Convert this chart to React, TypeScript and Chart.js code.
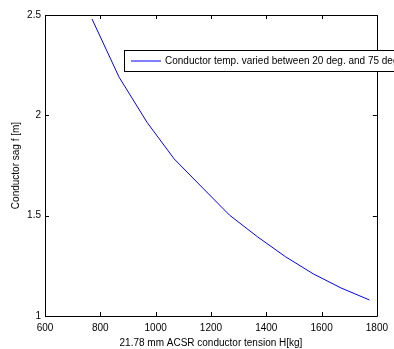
import React, { useEffect, useRef } from "react";
import { Chart, registerables } from "chart.js";

Chart.register(...registerables);

const tensionH = [770, 868, 969, 1067, 1171, 1267, 1368, 1470, 1570, 1670, 1773];
const sagF = [2.48, 2.19, 1.965, 1.783, 1.637, 1.503, 1.395, 1.295, 1.21, 1.14, 1.08];
const xTicks = [600, 800, 1000, 1200, 1400, 1600, 1800];
const yTicks = [1, 1.5, 2, 2.5];
const seriesLabel = "Conductor temp. varied between 20 deg. and 75 deg.";
const xTitle = "21.78 mm ACSR conductor tension H[kg]";
const yTitle = "Conductor sag f [m]";

const FONT = "Arial, 'Liberation Sans', sans-serif";

const framePlugin = {
  id: "frame",
  afterDraw(chart: any) {
    const { ctx, chartArea } = chart;
    const { left, right, top, bottom } = chartArea;
    const xs = chart.scales.x;
    const ys = chart.scales.y;
    ctx.save();
    ctx.strokeStyle = "#000";
    ctx.lineWidth = 1;
    ctx.beginPath();
    ctx.rect(Math.round(left) + 0.5, Math.round(top) + 0.5, Math.round(right - left), Math.round(bottom - top));
    ctx.stroke();
    const tl = 4;
    ctx.beginPath();
    xTicks.forEach((v) => {
      const px = Math.round(xs.getPixelForValue(v)) + 0.5;
      ctx.moveTo(px, bottom);
      ctx.lineTo(px, bottom - tl);
      ctx.moveTo(px, top);
      ctx.lineTo(px, top + tl);
    });
    yTicks.forEach((v) => {
      const py = Math.round(ys.getPixelForValue(v)) + 0.5;
      ctx.moveTo(left, py);
      ctx.lineTo(left + tl, py);
      ctx.moveTo(right, py);
      ctx.lineTo(right - tl, py);
    });
    ctx.stroke();

    // legend
    const lx = 124.5, ly = 50.5, lh = 21;
    ctx.fillStyle = "#fff";
    ctx.fillRect(lx, ly, 400, lh);
    ctx.strokeStyle = "#000";
    ctx.strokeRect(lx, ly, 400, lh);
    ctx.strokeStyle = "#0000ff";
    ctx.beginPath();
    ctx.moveTo(131, ly + lh / 2);
    ctx.lineTo(161, ly + lh / 2);
    ctx.stroke();
    ctx.fillStyle = "#000";
    ctx.font = `10px ${FONT}`;
    ctx.textBaseline = "middle";
    ctx.textAlign = "left";
    ctx.fillText(chart.data.datasets[0].label, 165, ly + lh / 2 + 0.5);
    ctx.restore();
  },
};

export default function App() {
  const ref = useRef<HTMLCanvasElement>(null);
  useEffect(() => {
    document.body.style.margin = "0";
    const chart = new Chart(ref.current!, {
      type: "line",
      data: {
        datasets: [
          {
            label: seriesLabel,
            data: tensionH.map((h, i) => ({ x: h, y: sagF[i] })),
            borderColor: "#0000ff",
            borderWidth: 1,
            pointRadius: 0,
            tension: 0,
            fill: false,
          },
        ],
      },
      options: {
        animation: false,
        responsive: true,
        maintainAspectRatio: false,
        layout: { padding: { left: 0, right: 13, top: 15, bottom: 0 } },
        plugins: { legend: { display: false }, tooltip: { enabled: false } },
        scales: {
          x: {
            type: "linear",
            min: 600,
            max: 1800,
            afterBuildTicks: (s: any) => {
              s.ticks = xTicks.map((v) => ({ value: v }));
            },
            afterFit: (s: any) => {
              s.height = 33;
            },
            grid: { display: false, drawTicks: false },
            border: { display: false },
            ticks: {
              color: "#000",
              font: { family: FONT, size: 10 },
              padding: 6,
              maxRotation: 0,
              autoSkip: false,
              callback: (v: any) => String(v),
            },
            title: {
              display: true,
              text: xTitle,
              color: "#000",
              font: { family: FONT, size: 10 },
              padding: { top: 0, bottom: 0 },
            },
          },
          y: {
            type: "linear",
            min: 1,
            max: 2.5,
            afterBuildTicks: (s: any) => {
              s.ticks = yTicks.map((v) => ({ value: v }));
            },
            afterFit: (s: any) => {
              s.width = 45;
            },
            grid: { display: false, drawTicks: false },
            border: { display: false },
            ticks: {
              color: "#000",
              font: { family: FONT, size: 10 },
              padding: 4,
              autoSkip: false,
              callback: (v: any) => String(v),
            },
            title: {
              display: true,
              text: yTitle,
              color: "#000",
              font: { family: FONT, size: 10 },
              padding: { top: 10, bottom: 0 },
            },
          },
        },
      },
      plugins: [framePlugin],
    } as any);
    return () => chart.destroy();
  }, []);
  return (
    <div style={{ width: 394, height: 349, position: "relative", background: "#fff" }}>
      <canvas ref={ref} />
    </div>
  );
}
